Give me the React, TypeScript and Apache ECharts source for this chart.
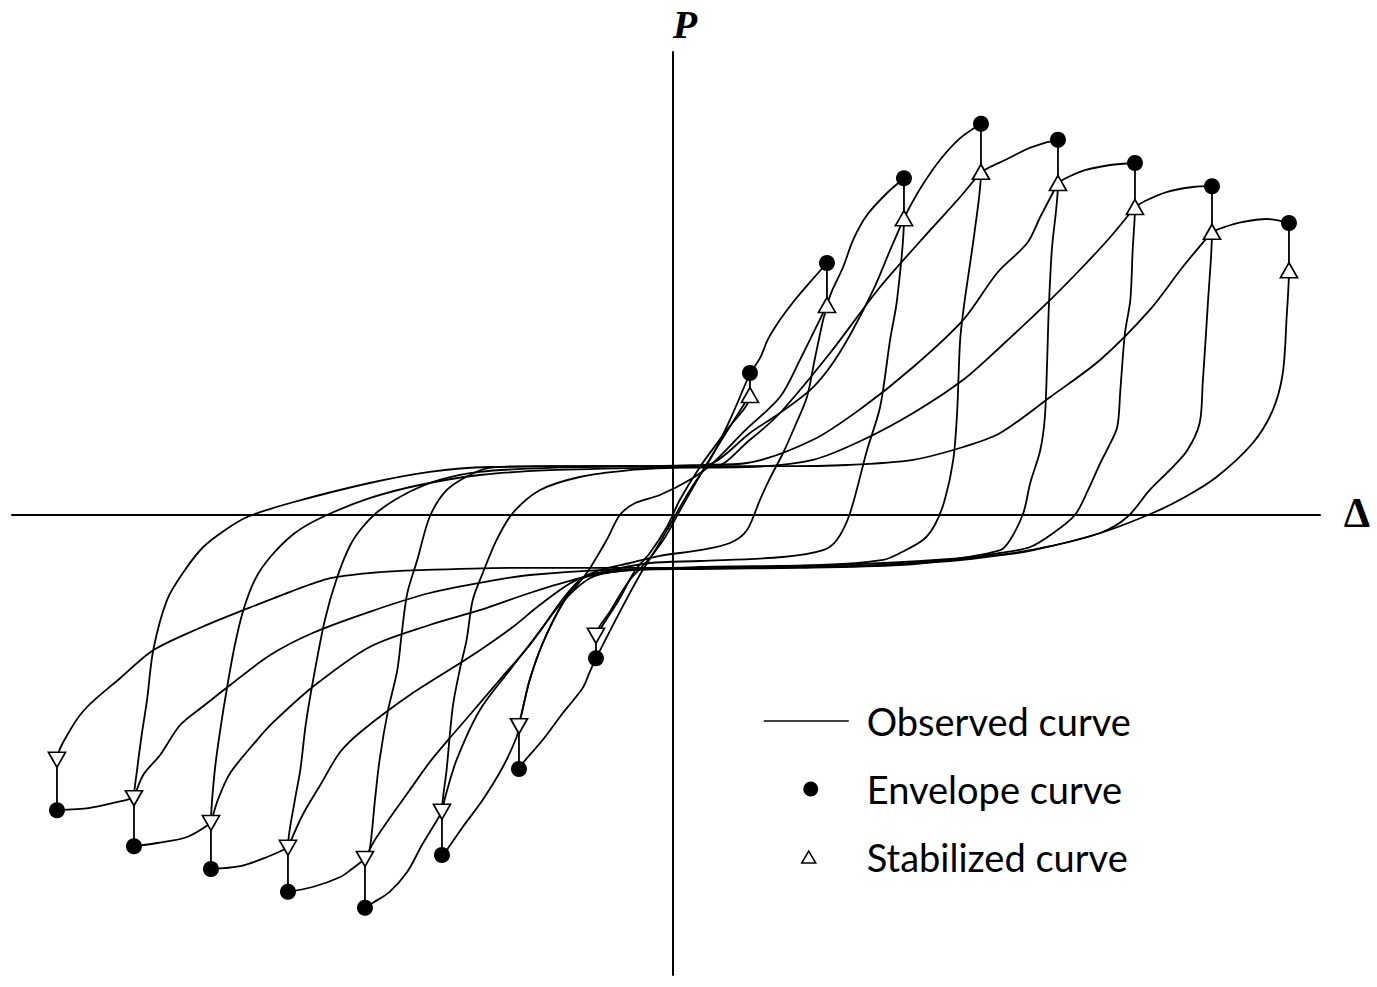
import React, { useEffect, useRef } from "react";
import * as echarts from "echarts";

// Displacement Δ (mm) and load P (kN).
const envelopePos = [[10, 35.5], [20, 63], [30, 84.2], [40, 97.8], [50, 93.8], [60, 88], [70, 82.2], [80, 73]];
const envelopeNeg = [[-10, -35.8], [-20, -63.5], [-30, -85], [-40, -98.2], [-50, -94.2], [-60, -88.5], [-70, -82.8], [-80, -73.8]];
const stabilizedPos = [[10, 30], [20, 52.5], [30, 74.2], [40, 85.8], [50, 83], [60, 77], [70, 70.8], [80, 61.2]];
const stabilizedNeg = [[-10, -30.2], [-20, -52.8], [-30, -74.2], [-40, -86], [-50, -83.2], [-60, -77], [-70, -70.8], [-80, -61.2]];

// Observed curve: unloading from positive peaks (through zero to negative side)
const halfPos1 = [[10, 35.5], [10, 30], [6.8, 20.8], [3.5, 12], [0.9, 3.8], [-0.8, -3], [-3, -9.5], [-4.9, -13.8], [-6.9, -20.8], [-9.1, -27.5], [-10, -30.2]];
const halfPos2 = [[20, 63], [20, 52.5], [19.5, 48.8], [18.4, 38.8], [17.4, 29.5], [15.8, 22], [14.3, 15.5], [12.6, 9.2], [11.3, 3.8], [9.6, -3.8], [7.4, -7], [3.5, -8.8], [-1.7, -10.2], [-5.6, -12], [-9.5, -13.8], [-12.1, -16.2], [-14.3, -22], [-16.9, -32], [-18.6, -41.2], [-19.6, -49.2], [-20, -52.8]];
const halfPos3 = [[30, 84.2], [30, 74.2], [29.1, 53.8], [28.2, 43.8], [26.9, 27], [25.2, 16.2], [23, 0.5], [21.3, -6.2], [19.5, -8.8], [14.3, -10.5], [3.5, -11.5], [-3, -12], [-8.2, -13.8], [-10.8, -15], [-12.5, -17], [-14.7, -22], [-16.9, -28], [-21.2, -38.8], [-25.1, -48.8], [-28.1, -61.2], [-29.5, -70], [-30, -74.2]];
const halfPos4 = [[40, 97.8], [40, 85.8], [39.2, 71.2], [37.9, 53.8], [37.3, 43.8], [36.9, 25.5], [36.4, 13.8], [35.3, 3.8], [34, -2.5], [32.5, -6.2], [29.5, -9.5], [27.3, -11.2], [19.1, -12.5], [3.5, -13], [-6.9, -14], [-10.8, -15.8], [-14.7, -22.5], [-18.6, -32.5], [-22.5, -41.2], [-26.4, -50], [-29, -55.8], [-31.6, -61.8], [-34.2, -68.8], [-36.8, -75.8], [-38.7, -81.2], [-40, -86]];
const halfPos5 = [[50, 93.8], [50, 83], [49.2, 66.2], [48.8, 51.2], [48.6, 38.8], [48.3, 24.5], [47.7, 16.2], [46.4, 8], [45.5, 0.5], [43.8, -6.2], [42.5, -8.8], [36, -11.2], [29.5, -12.5], [16.5, -13.2], [3.5, -13.5], [-6.9, -13.8], [-12.5, -16.2], [-17.3, -22.5], [-20.8, -28], [-26.4, -35.5], [-33.8, -44.5], [-40.3, -53.8], [-43.2, -59.2], [-45.8, -67.5], [-48.1, -75], [-50, -83.2]];
const halfPos6 = [[60, 88], [60, 77], [59.7, 66.2], [59.4, 53.8], [58.7, 45.5], [58.1, 31.2], [57.7, 22], [56.5, 16.8], [55.5, 13], [53.9, 6.2], [52.2, 0], [49.4, -4.5], [46.4, -8], [42.5, -9.5], [36, -11.2], [23, -12.8], [3.5, -13.2], [-6.9, -14], [-12.1, -15.8], [-18.6, -19.5], [-25.1, -23.8], [-31.6, -27.5], [-39.4, -33], [-46.8, -43], [-51.9, -51.8], [-54, -56.2], [-57.5, -64.5], [-59.1, -71.2], [-60, -77]];
const halfPos7 = [[70, 82.2], [70, 70.8], [69.5, 53.8], [68.8, 33], [68.4, 23], [66.8, 16.2], [64.5, 11.2], [61.9, 6.2], [59, -0.5], [55.5, -4.5], [49, -7.8], [42.5, -10], [36, -11.5], [23, -12.8], [3.5, -13.2], [-9.5, -13.8], [-18.6, -15], [-22.9, -16.2], [-31.6, -19.5], [-39.4, -24.2], [-46.8, -29.5], [-52.3, -35], [-57.5, -42.5], [-60.8, -47.5], [-64, -52.5], [-66.6, -60], [-68.8, -65], [-70, -70.8]];
const halfPos8 = [[80, 73], [80, 61.2], [79.7, 49.5], [79.2, 35.5], [77.9, 26.2], [75.3, 18], [70.6, 9.5], [66.5, 4.5], [62.3, 0.5], [55.5, -4.5], [46.8, -8.8], [42.5, -10], [27.3, -12], [3.5, -13.2], [-19.9, -13.2], [-32.9, -13.8], [-39.4, -14.5], [-44.5, -15.8], [-49.7, -19.2], [-55.8, -23.8], [-61.4, -28.2], [-67.5, -33.8], [-71.8, -40.8], [-76.1, -48], [-78.3, -53.8], [-80, -61.2], [-80, -73.8]];

// Observed curve: unloading from negative peaks (through zero to positive side)
const halfNeg1 = [[-10, -35.8], [-10, -30.2], [-8.2, -24.2], [-5.6, -16.2], [-3.2, -11.2], [-1, -5.5], [1.3, 2.5], [3.9, 11.2], [7.1, 21.2], [10, 30]];
const halfNeg2 = [[-20, -63.5], [-20, -52.8], [-19.6, -49.2], [-18.6, -41.2], [-16.9, -32], [-14.3, -22], [-11.2, -14.5], [-8.6, -6.2], [-6.9, 0], [-4.9, 3], [-1.7, 5], [2.2, 8.8], [5.2, 13], [9.4, 21.2], [13.9, 29.5], [16.5, 38.8], [18.4, 46.2], [20, 52.5]];
const halfNeg3 = [[-30, -85], [-30, -74.2], [-29.4, -63.8], [-28.6, -48], [-27.7, -38.8], [-26.8, -31.2], [-26, -21.2], [-24.7, -14.5], [-22.9, -6.2], [-20.8, 0.5], [-17.3, 6.2], [-12.1, 9.5], [-5.6, 11.2], [0.9, 12], [5.2, 13], [10, 20.5], [13.9, 25.5], [17.8, 31.2], [20.4, 37], [23, 45], [26, 56.2], [28.2, 66.2], [30, 74.2]];
const halfNeg4 = [[-40, -98.2], [-40, -86], [-39.4, -83.8], [-38.7, -71.2], [-38.1, -61.2], [-37, -48.8], [-35.8, -38.8], [-35.2, -29.2], [-34.5, -19.5], [-33.2, -11.2], [-31.6, -0.5], [-29.4, 6.2], [-26.4, 10], [-23.8, 11.8], [-16, 12.2], [-3, 12.2], [5.2, 12], [10, 18.8], [13.9, 25.5], [20.4, 40.5], [26.9, 57], [33.4, 71.2], [37.3, 79.5], [40, 85.8]];
const halfNeg5 = [[-50, -94.2], [-50, -83.2], [-49.1, -71.2], [-48.4, -63.8], [-47.7, -52.5], [-46.8, -42], [-45.2, -26.2], [-43.6, -15.5], [-41.9, -7.5], [-40.3, -3], [-38.1, 1.2], [-34.2, 5.8], [-30.3, 8.8], [-25.1, 10.8], [-16, 11.8], [-3, 12.2], [3.5, 12.5], [9.6, 13], [18.2, 18.8], [24.7, 27], [31.2, 37], [37.7, 48.8], [42.1, 60.5], [46, 68], [47.7, 74.5], [50, 83]];
const halfNeg6 = [[-60, -88.5], [-60, -77], [-59.5, -63.8], [-58.8, -53.8], [-57.9, -43], [-56.9, -32.5], [-55.8, -23.8], [-54.3, -16.2], [-52.3, -10.5], [-49.1, -4.5], [-45.5, -0.5], [-39.4, 4.2], [-32.9, 7.5], [-25.1, 10], [-16, 11.2], [-3, 11.8], [9.6, 12], [18.2, 13.8], [24.7, 18.8], [31.2, 25.5], [37.7, 33.8], [42.5, 42], [49, 53.8], [53.2, 62], [56.8, 69.5], [60, 77]];
const halfNeg7 = [[-70, -82.8], [-70, -70.8], [-69.6, -63.8], [-69, -55], [-68.3, -46.2], [-67.5, -33.8], [-65.7, -21.2], [-63.4, -13.8], [-61, -8], [-58.2, -3.8], [-55.3, -0.5], [-49.7, 3], [-39.4, 8], [-31.6, 10.8], [-23.8, 12], [-9.5, 12.2], [3.5, 12.2], [13.9, 12.2], [22.6, 12.5], [31.2, 13.8], [37.7, 17], [42.5, 20.5], [49, 29.5], [55.5, 38.8], [61.9, 51.2], [66.2, 62], [70, 70.8]];

// Observed curve: first loading from -10 to +10
const firstCycle = [[-10, -35.8], [-6.9, -24.2], [-4.3, -15], [-2.3, -8.8], [-0.4, -2.5], [2.2, 6.2], [4.8, 13.8], [7.4, 23.8], [10, 35.5]];

// Observed curve: loading beyond the previous peak up to the next envelope point
const capPos1 = [[10, 35.5], [11.3, 39.2], [12.3, 43.8], [13.9, 48.8], [15.6, 53.2], [17.8, 58.2], [20, 63]];
const capPos2 = [[20, 52.5], [20.6, 55.8], [22.1, 62], [23.4, 68.8], [25.2, 75], [27.8, 80.5], [30, 84.2]];
const capPos3 = [[30, 74.2], [30.8, 77.2], [32.3, 82.2], [34.7, 88.8], [37.3, 94.2], [40, 97.8]];
const capPos4 = [[40, 85.8], [41.2, 87], [43.4, 89], [46, 91.5], [48.6, 93.2], [50, 93.8]];
const capPos5 = [[50, 83], [51, 84.2], [53.5, 86.2], [56.8, 87.5], [60, 88]];
const capPos6 = [[60, 77], [61.3, 78.5], [64.2, 80.8], [67.5, 82], [70, 82.2]];
const capPos7 = [[70, 70.8], [71.3, 71.8], [73.9, 73.2], [77.1, 74], [80, 73]];
const capNeg1 = [[-10, -35.8], [-10.8, -39.2], [-11.7, -43.2], [-14.3, -49.5], [-16.9, -56.2], [-19.5, -62], [-20, -63.5]];
const capNeg2 = [[-20, -52.8], [-20.3, -55.5], [-22.1, -63], [-24.7, -71.2], [-27.3, -78], [-29.4, -83.8], [-30, -85]];
const capNeg3 = [[-30, -74.2], [-30.8, -76.8], [-32.6, -82.5], [-34.5, -89.2], [-36.8, -94.2], [-39, -97], [-40, -98.2]];
const capNeg4 = [[-40, -86], [-41.7, -88.5], [-43.2, -90.5], [-46.8, -93], [-50, -94.2]];
const capNeg5 = [[-50, -83.2], [-52.7, -85.5], [-56.2, -87.8], [-60, -88.5]];
const capNeg6 = [[-60, -77], [-63.1, -80.5], [-67, -82], [-70, -82.8]];
const capNeg7 = [[-70, -70.8], [-72.2, -71.8], [-75.7, -73.2], [-80, -73.8]];

const observedPaths = [
  firstCycle,
  halfPos1, halfPos2, halfPos3, halfPos4, halfPos5, halfPos6, halfPos7, halfPos8,
  halfNeg1, halfNeg2, halfNeg3, halfNeg4, halfNeg5, halfNeg6, halfNeg7,
  capPos1, capPos2, capPos3, capPos4, capPos5, capPos6, capPos7,
  capNeg1, capNeg2, capNeg3, capNeg4, capNeg5, capNeg6, capNeg7,
];

const legendNames = ["Observed curve", "Envelope curve", "Stabilized curve"];

export default function App() {
  const ref = useRef<HTMLDivElement>(null);

  useEffect(() => {
    if (!ref.current) return;
    const chart = echarts.init(ref.current, undefined, { renderer: "svg" });

    const lineSeries = observedPaths.map((d) => ({
      name: legendNames[0],
      type: "line",
      data: d,
      smooth: 0.3,
      symbol: "none",
      showSymbol: false,
      color: "#000",
      lineStyle: { color: "#000", width: 1.8 },
      z: 2,
      silent: true,
    }));

    const triStyle = { color: "#fff", borderColor: "#000", borderWidth: 1.7, opacity: 1 };

    chart.setOption({
      animation: false,
      backgroundColor: "#fff",
      grid: { left: 12, right: 57, top: 52, bottom: 12 },
      xAxis: {
        type: "value",
        min: -85.84,
        max: 84.03,
        axisLine: { show: true, onZero: true, lineStyle: { color: "#000", width: 2 } },
        axisTick: { show: false },
        axisLabel: { show: false },
        splitLine: { show: false },
      },
      yAxis: {
        type: "value",
        min: -115,
        max: 115.75,
        axisLine: { show: true, onZero: true, lineStyle: { color: "#000", width: 2 } },
        axisTick: { show: false },
        axisLabel: { show: false },
        splitLine: { show: false },
      },
      legend: {
        orient: "vertical",
        left: 763,
        top: 702,
        padding: 0,
        itemWidth: 98,
        itemHeight: 18,
        itemGap: 30,
        selectedMode: false,
        textStyle: { fontFamily: "Lato", fontSize: 38, color: "#000" },
        data: [
          { name: legendNames[0], icon: "path://M0,0M0,8.2H85V9.8H0ZM98,18", itemStyle: { color: "#000", borderWidth: 0 } },
          { name: legendNames[1], icon: "path://M0,0M39.5,9A7.5,7.5,0,1,1,54.5,9A7.5,7.5,0,1,1,39.5,9ZM98,18", itemStyle: { color: "#000", borderWidth: 0 } },
          { name: legendNames[2], icon: "path://M0,0M38,15L45,3L52,15ZM98,18", itemStyle: { color: "#fff", borderColor: "#000", borderWidth: 1.5 } },
        ],
      },
      graphic: [
        {
          type: "text",
          x: 685,
          y: 24,
          style: { text: "P", font: 'italic bold 40px "Liberation Serif"', fill: "#000", align: "center", verticalAlign: "middle" },
        },
        {
          type: "text",
          x: 1357,
          y: 513,
          style: { text: "Δ", font: 'bold 42px "Liberation Serif"', fill: "#000", align: "center", verticalAlign: "middle" },
        },
      ],
      series: [
        ...lineSeries,
        {
          name: legendNames[1],
          type: "scatter",
          data: [...envelopePos, ...envelopeNeg],
          symbol: "circle",
          symbolSize: 16,
          itemStyle: { color: "#000", opacity: 1 },
          z: 4,
        },
        {
          name: legendNames[2],
          type: "scatter",
          data: stabilizedPos,
          symbol: "triangle",
          symbolSize: [17, 15],
          itemStyle: triStyle,
          z: 5,
        },
        {
          name: legendNames[2],
          type: "scatter",
          data: stabilizedNeg,
          symbol: "triangle",
          symbolRotate: 180,
          symbolSize: [17, 15],
          itemStyle: triStyle,
          z: 5,
        },
      ],
    });

    return () => chart.dispose();
  }, []);

  return (
    <div
      ref={ref}
      style={{ position: "absolute", left: 0, top: 0, width: 1377, height: 987, background: "#fff" }}
    />
  );
}
